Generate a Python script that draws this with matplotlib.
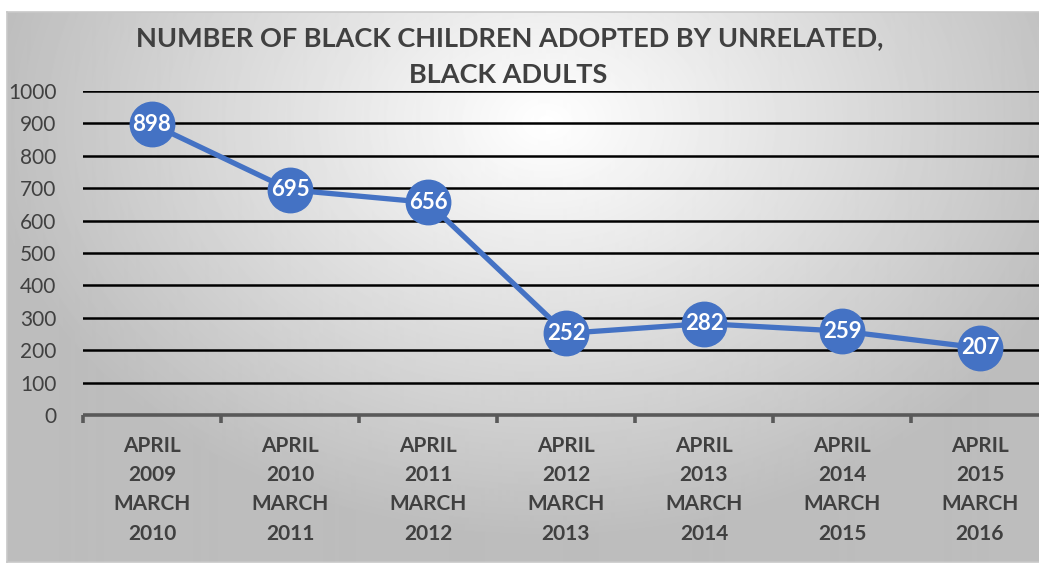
import numpy as np
import matplotlib.pyplot as plt

# data
periods = ["APRIL\n2009\nMARCH\n2010", "APRIL\n2010\nMARCH\n2011", "APRIL\n2011\nMARCH\n2012",
           "APRIL\n2012\nMARCH\n2013", "APRIL\n2013\nMARCH\n2014", "APRIL\n2014\nMARCH\n2015",
           "APRIL\n2015\nMARCH\n2016"]
adopted = [898, 695, 656, 252, 282, 259, 207]
y_ticks = list(range(0, 1001, 100))

W, H = 1039, 567
blue = "#4472C4"
grey_txt = "#404040"
plt.rcParams['font.family'] = ['Lato', 'DejaVu Sans']

fig = plt.figure(figsize=(W / 100, H / 100), dpi=100)

# chart area with radial gradient
bg = fig.add_axes([7 / W, 5 / H, 1.0, (562 - 12) / H])
yy, xx = np.mgrid[0:550, 0:1040]
d = np.sqrt(((xx - 540) / 650.0) ** 2 + ((yy - 110) / 480.0) ** 2)
shade = np.clip(1.0 - 0.30 * d, 0.74, 1.0)
bg.imshow(shade, cmap='gray', vmin=0, vmax=1, aspect='auto', interpolation='bilinear')
bg.set_xticks([])
bg.set_yticks([])
for s in bg.spines.values():
    s.set_color("#c8c8c8")
    s.set_linewidth(1.2)

ax = fig.add_axes([83 / W, (H - 415) / H, (1049 - 83) / W, 324 / H])
ax.set_facecolor('none')
x = np.arange(len(adopted))
ax.set_xlim(-0.5, len(adopted) - 0.5)
ax.set_ylim(0, 1000)

for v in y_ticks[1:]:
    ax.axhline(v, color='black', lw=1.8, zorder=1)

ax.plot(x, adopted, color=blue, lw=3.8, marker='o', markersize=32,
        markerfacecolor=blue, markeredgecolor=blue, zorder=3, clip_on=False)
for xi, v in zip(x, adopted):
    ax.text(xi, v, str(v), color='white', fontsize=16, fontweight='bold',
            ha='center', va='center', zorder=4)

for s in ['top', 'right', 'left']:
    ax.spines[s].set_visible(False)
ax.spines['bottom'].set_color('#595959')
ax.spines['bottom'].set_linewidth(2.6)
ax.spines['bottom'].set_capstyle('butt')

ax.set_yticks(y_ticks)
ax.set_yticklabels([str(v) for v in y_ticks], fontsize=15, color=grey_txt)
ax.tick_params(axis='y', length=0, pad=19)

ax.set_xticks(np.arange(-0.5, len(adopted), 1.0))
ax.set_xticklabels([])
ax.tick_params(axis='x', length=6, width=2.6, color='#595959', direction='out')
ax.set_xticks(x, minor=True)
ax.set_xticklabels(periods, minor=True, fontsize=15, fontweight='bold',
                   color=grey_txt, linespacing=1.58)
ax.tick_params(axis='x', which='minor', length=0, pad=15)

fig.text(510 / W, 1 - 38 / H, "NUMBER OF BLACK CHILDREN ADOPTED BY UNRELATED,",
         ha='center', va='center', fontsize=19.5, fontweight='bold', color=grey_txt)
fig.text(508 / W, 1 - 75 / H, "BLACK ADULTS",
         ha='center', va='center', fontsize=19.5, fontweight='bold', color=grey_txt)

fig.savefig("out.png", dpi=100)
